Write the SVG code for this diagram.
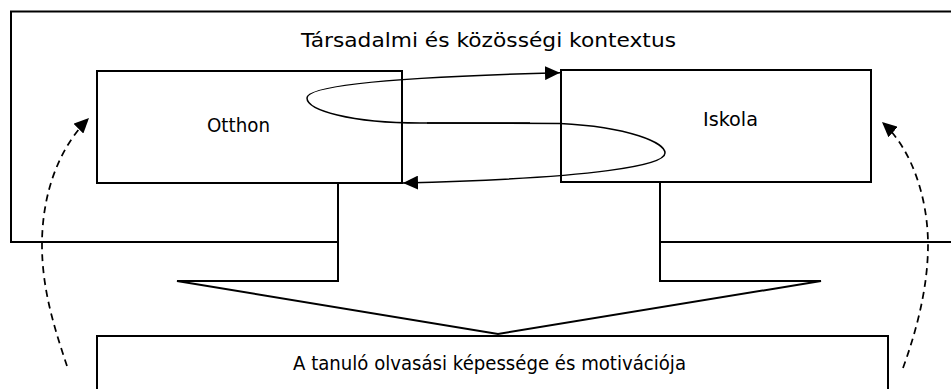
<svg xmlns="http://www.w3.org/2000/svg" width="951" height="389" viewBox="0 0 951 389">
<style>
.box{fill:#fff;stroke:#000;stroke-width:2}
.lbl{font-family:"DejaVu Sans",Verdana,sans-serif;font-size:20px;fill:#000}
.cur{fill:none;stroke:#000;stroke-width:1.5}
.dash{fill:none;stroke:#000;stroke-width:1.75;stroke-dasharray:7 5}
</style>
<defs>
<marker id="ah" markerUnits="userSpaceOnUse" markerWidth="15" markerHeight="14" viewBox="0 0 15 14" refX="15" refY="7" orient="auto">
<path d="M0,0 L15,7 L0,14 z" fill="#000"/>
</marker>
</defs>
<g id="context">
<rect class="box" x="11" y="11.5" width="960" height="230.5"/>
<text class="lbl" x="301" y="47" textLength="375" lengthAdjust="spacingAndGlyphs">Társadalmi és közösségi kontextus</text>
</g>
<g id="block-arrow">
<polygon points="338,183 338,281 177,281 498,334 821,281 660,281 660,182" fill="#fff" stroke="none"/>
<polyline points="338,183 338,281 177,281 498,334 821,281 660,281 660,182" fill="none" stroke="#000" stroke-width="2" stroke-linejoin="miter"/>
</g>
<g id="otthon">
<rect class="box" x="97" y="71" width="305" height="112"/>
<text class="lbl" x="207" y="132" textLength="63" lengthAdjust="spacingAndGlyphs">Otthon</text>
</g>
<g id="iskola">
<rect class="box" x="561" y="70" width="310" height="112"/>
<text class="lbl" x="703" y="126" textLength="55" lengthAdjust="spacingAndGlyphs">Iskola</text>
</g>
<g id="tanulo">
<rect class="box" x="97" y="336" width="791" height="70"/>
<text class="lbl" x="293" y="370" textLength="393" lengthAdjust="spacingAndGlyphs">A tanuló olvasási képessége és motivációja</text>
</g>
<g id="connectors">
<path class="cur" d="M530,123 L420,123 C350,123 307,110 307,98 C307,88 360,78 560,72.7" marker-end="url(#ah)"/>
<path class="cur" d="M427,123 L560,123.5 C630,127 665,143 665,153 C665,165 600,178 403,183" marker-end="url(#ah)"/>
<path class="dash" d="M67,366 C55,330 42,290 42,245 C42,200 55,152 89,118" marker-end="url(#ah)"/>
<path class="dash" d="M903,368 C915,335 928,290 928,245 C928,200 913,150 882,122" marker-end="url(#ah)"/>
</g>
</svg>
